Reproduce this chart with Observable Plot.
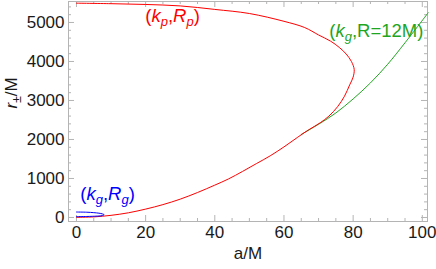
<!DOCTYPE html>
<html><head><meta charset="utf-8">
<script src="https://cdn.jsdelivr.net/npm/d3@7"></script>
<script src="https://cdn.jsdelivr.net/npm/@observablehq/plot@0.6"></script>
<style>body{margin:0;background:#fff} svg{display:block}</style>
</head><body><div id="chart"></div>
<script>
// Red curve (k_p, R_p): traced from upper-left, around the turning point, back to origin
const redA = [0, 10, 20, 30, 40, 50, 60, 66, 70, 73.5, 76, 78, 79.5, 80.3, 80, 79, 77.5, 75.5, 73, 70.5, 67, 64, 60, 56, 52, 48, 44, 40, 35, 30, 25, 20, 15, 10, 5, 0];
const redR = [5495, 5482, 5462, 5425, 5335, 5230, 5030, 4870, 4680, 4520, 4360, 4190, 4000, 3800, 3600, 3400, 3110, 2840, 2600, 2430, 2240, 2060, 1810, 1580, 1380, 1180, 990, 830, 640, 470, 330, 215, 120, 55, 15, 4];
// Green curve (k_g, R=12M)
const greenA = [65, 70, 75, 80, 85, 90, 95, 101.7];
const greenR = [2130, 2390, 2680, 3040, 3450, 3930, 4480, 5250];
// Blue curve (k_g, R_g)
const blueA = [0, 3, 5, 6.5, 7.5, 8, 7.5, 6, 3, 0];
const blueR = [140, 135, 124, 110, 92, 70, 48, 36, 26, 22];

const xTicks = [0, 20, 40, 60, 80, 100];
const yTicks = [0, 1000, 2000, 3000, 4000, 5000];
const labels = [
  {a: 27.8, r: 5154, key: "p", color: "#ff0000"},
  {a: 86.7, r: 4770, key: "g12", color: "#1fa51f"},
  {a: 9, r: 590, key: "g", color: "#0000ff"}
];

const toPts = (A, R) => A.map((a, i) => ({a, r: R[i]}));
const red = toPts(redA, redR), green = toPts(greenA, greenR), blue = toPts(blueA, blueR);

const W = 436, H = 269, mL = 68, mR = 9, mT = 1, mB = 48;
const fw = W - mL - mR, fh = H - mT - mB;
const gray = "#b4b4b4";
const xMinor = d3.range(0, 101.5, 5).filter(v => v % 20 !== 0);
const yMinor = d3.range(0, 5538, 200).filter(v => v % 1000 !== 0);

const plot = Plot.plot({
  width: W, height: H,
  marginLeft: mL, marginRight: mR, marginTop: mT, marginBottom: mB,
  style: {fontFamily: "'Liberation Sans', Arial, sans-serif", fontSize: "17px", background: "#fff"},
  x: {domain: [-2.3, 101.5]},
  y: {domain: [-103, 5538]},
  marks: [
    Plot.frame({stroke: gray}),
    Plot.tickX(xTicks, {x: d => d, insetTop: fh - 6, stroke: gray}),
    Plot.tickX(xTicks, {x: d => d, insetBottom: fh - 6, stroke: gray}),
    Plot.tickX(xMinor, {x: d => d, insetTop: fh - 3, stroke: gray}),
    Plot.tickX(xMinor, {x: d => d, insetBottom: fh - 3, stroke: gray}),
    Plot.tickY(yTicks, {y: d => d, insetRight: fw - 6, stroke: gray}),
    Plot.tickY(yTicks, {y: d => d, insetLeft: fw - 6, stroke: gray}),
    Plot.tickY(yMinor, {y: d => d, insetRight: fw - 3, stroke: gray}),
    Plot.tickY(yMinor, {y: d => d, insetLeft: fw - 3, stroke: gray}),
    Plot.axisX({ticks: xTicks, tickSize: 0, tickPadding: 4, label: null, fill: "#1a1a1a", tickFormat: d3.format("d")}),
    Plot.axisY({ticks: yTicks, tickSize: 0, tickPadding: 4, label: null, fill: "#1a1a1a", tickFormat: d3.format("d")}),
    Plot.line(green, {x: "a", y: "r", stroke: "#1fa51f", strokeWidth: 1, curve: "catmull-rom"}),
    Plot.line(red, {x: "a", y: "r", stroke: "#ff0000", strokeWidth: 1, curve: "catmull-rom"}),
    Plot.line(blue, {x: "a", y: "r", stroke: "#0000ff", strokeWidth: 1, curve: "catmull-rom"}),
    Plot.text(labels, {x: "a", y: "r", text: "key", fill: "color", fontSize: 18.5, textAnchor: "middle", lineAnchor: "middle", className: "curvelabel"}),
    Plot.text(["a/M"], {frameAnchor: "bottom", dy: 32, lineAnchor: "middle", fontSize: 17, fill: "#1a1a1a"}),
    Plot.text(["r/M"], {frameAnchor: "left", dx: -57, dy: -3, rotate: -90, lineAnchor: "middle", fontSize: 17, fill: "#1a1a1a", className: "ylabel"})
  ]
});
document.getElementById("chart").appendChild(plot);

const it = s => `<tspan font-style="italic">${s}</tspan>`;
const sub = s => `<tspan font-style="italic" font-size="13" dy="4">${s}</tspan>`;
const up = s => `<tspan dy="-4">${s}</tspan>`;
const html = {
  p: `(${it("k")}${sub("p")}${up(",")}${it("R")}${sub("p")}${up(")")}`,
  g12: `(${it("k")}${sub("g")}${up(",R=12M)")}`,
  g: `(${it("k")}${sub("g")}${up(",")}${it("R")}${sub("g")}${up(")")}`
};
d3.select(plot).selectAll(".curvelabel text").each(function () {
  const k = this.textContent.trim();
  if (html[k]) { this.innerHTML = html[k]; this.setAttribute("y", "0.32em"); }
});
d3.select(plot).selectAll(".ylabel text").each(function () {
  this.innerHTML = `${it("r")}<tspan font-size="12" dy="4">±</tspan><tspan dy="-4">/M</tspan>`;
  this.setAttribute("y", "0.32em");
});
</script></body></html>
